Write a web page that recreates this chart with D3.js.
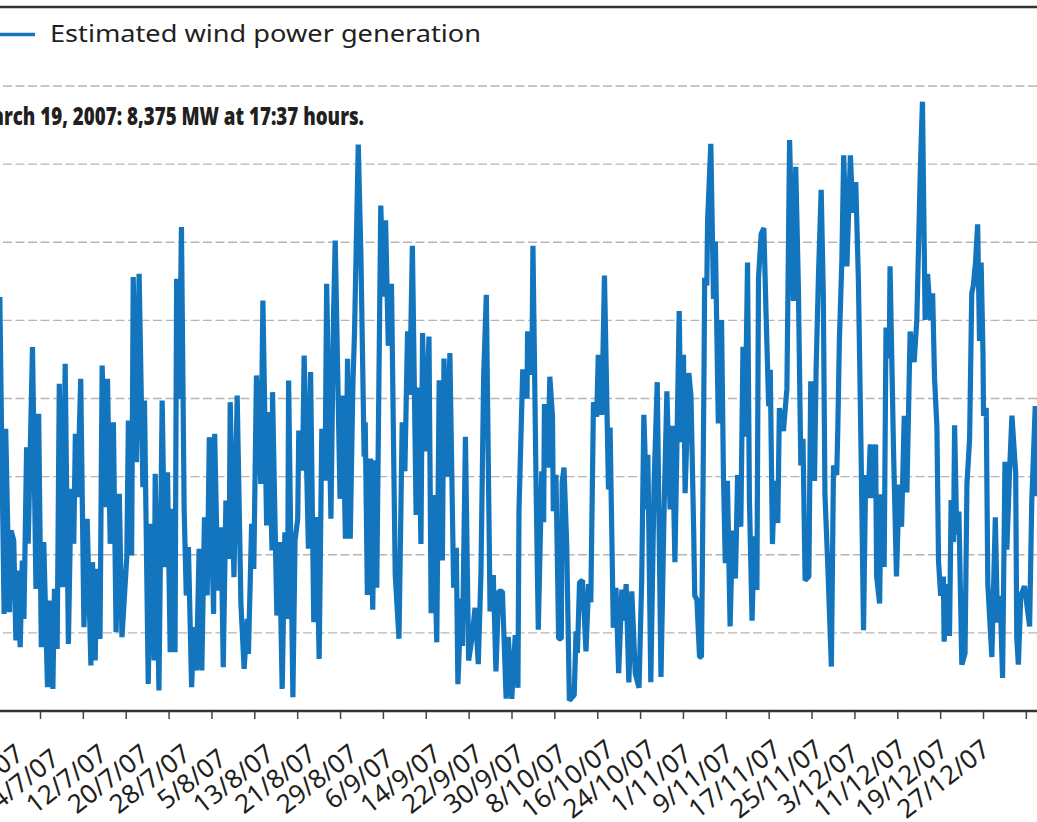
<!DOCTYPE html>
<html><head><meta charset="utf-8">
<script src="https://cdn.jsdelivr.net/npm/d3@7"></script>
<style>html,body{margin:0;padding:0;background:#fff;overflow:hidden}svg{display:block}</style>
</head><body><svg id="c" width="1037" height="822"></svg>
<script>
const legendLabel = "Estimated wind power generation";
const noteText = "March 19, 2007: 8,375 MW at 17:37 hours.";
const gridValues = [1000,2000,3000,4000,5000,6000,7000,8000];
const tickLabels = ["26/6/07","4/7/07","12/7/07","20/7/07","28/7/07","5/8/07","13/8/07","21/8/07","29/8/07","6/9/07","14/9/07","22/9/07","30/9/07","8/10/07","16/10/07","24/10/07","1/11/07","9/11/07","17/11/07","25/11/07","3/12/07","11/12/07","19/12/07","27/12/07",""];
const tickDays = [-8,0,8,16,24,32,40,48,56,64,72,80,88,96,104,112,120,128,136,144,152,160,168,176,184];
// days since 4 July 2007
const days = [-7.5,-7.2,-6.7,-6.4,-5.7,-5.4,-4.9,-4.5,-4.2,-3.7,-3.3,-3,-2.5,-2.2,-1.4,-0.75,-0.25,0.25,0.7,1.4,1.9,2.4,2.7,3.2,3.6,4.2,4.7,5.3,5.8,6.3,6.6,7,7.6,8.2,8.8,9.5,9.8,10.3,10.6,11.2,11.6,12.3,12.6,13.1,13.7,14.2,14.8,15.3,16.2,16.5,17.1,17.4,18,18.5,19.2,19.5,20.2,20.7,21.3,21.5,22.2,22.8,23.3,23.8,24.3,24.7,25.2,25.5,26,26.4,26.9,27.3,27.7,28.3,28.7,29.2,29.7,30.2,30.7,31.2,31.6,32.4,32.6,33.2,33.8,34.2,34.7,35.3,35.5,36.2,36.8,37.5,38.1,38.7,38.9,39.5,39.9,40.4,41.2,41.6,42.3,42.7,43.3,43.4,44.2,44.7,45.2,45.7,46.2,46.4,47.2,47.6,48.1,48.3,49,49.3,50.1,50.5,51.1,51.6,52.1,52.6,53.2,53.5,54.3,54.8,55.1,56,56.5,57,57.4,
57.9,58.4,58.7,59.4,59.9,60.5,60.7,61.1,61.7,62.1,62.5,62.85,63.6,64.1,64.5,65,65.6,66.3,67,67.6,68.1,68.6,69,69.5,70.2,70.6,71.1,71.4,71.9,72.6,73,73.4,74.05,74.5,75.1,75.4,76,76.5,77.2,77.7,78,78.6,78.85,79.4,80,80.6,81.2,81.8,82.3,82.8,83.3,84,84.6,85.1,85.6,86.3,87,87.4,88.05,88.7,89.2,89.4,90.1,90.9,91,91.8,92,92.6,93,93.65,94,94.15,94.8,95.15,95.65,95.8,96.3,96.8,97.3,97.45,97.8,98.3,98.8,99.7,100.05,100.3,100.7,101.25,101.6,101.9,102.4,102.8,103.3,103.9,104.2,104.85,105.35,106.1,106.4,107,107.5,108,108.6,108.9,109.4,109.9,110.45,111.1,111.8,112.3,112.7,113.25,113.45,114,114.6,115.2,115.9,116.5,117,117.6,118,118.5,119.3,119.65,120.1,120.4,121.1,
121.5,122,122.2,122.6,123.1,123.45,123.6,123.95,124.05,124.45,124.6,125.2,125.7,126.05,126.6,127.2,127.55,127.9,128.3,128.8,129.25,129.8,130.2,130.8,131.2,131.6,132.05,132.4,132.9,133.3,133.8,134.1,134.6,135.1,135.5,136,136.3,136.7,137.1,137.7,138,138.75,139.4,139.9,140.6,141.05,141.55,142,142.4,142.8,143.5,143.85,144.55,144.85,145.3,145.8,146.2,146.5,147,147.7,148.1,148.7,148.9,149.2,149.65,150,150.6,151.25,151.7,152.25,152.75,153.25,153.7,154.1,154.6,154.95,155.4,155.95,156.15,156.7,157,157.55,157.9,158.5,158.65,159.3,159.85,160.35,160.8,161.3,161.8,162.4,163.15,163.65,164.3,164.7,165.2,165.65,166.25,166.6,166.95,167.4,167.7,168.1,168.6,168.75,169.25,169.75,170.05,170.5,170.7,171.1,171.5,172.05,172.65,173,173.5,173.9,174.2,174.6,175,175.35,175.65,176,176.1,176.6,176.9,177.65,178.3,178.7,179.2,179.65,180.1,180.45,180.95,181.4,182.1,182.3,182.6,183.05,183.75,184.7,185.1,185.75,186.1];
const windMW = [5298,3719,1243,3612,1265,2310,2182,902,1798,816,1926,1179,3377,2140,4658,1563,3804,816,2161,304,1414,283,1563,795,4188,1585,4444,859,2844,2140,3548,2737,4252,1073,2460,582,1905,646,1819,923,4423,2609,4252,2140,3697,1009,2780,945,1969,3719,1990,5554,3185,5597,2865,3975,347,2396,646,3036,262,3975,1841,3057,752,2588,752,5533,3996,6194,2588,1478,2097,304,1073,518,2076,518,2481,1478,3505,1243,3548,1542,2353,560,2694,1947,3953,1713,4039,1371,539,1179,731,2396,1819,4295,2908,5255,2374,3825,2054,4081,1222,2161,283,2289,1179,4231,176,2182,2460,3591,3078,4551,2076,4338,1137,2481,667,3612,2950,5469,2460,5127,6023,2716,4039,2204,4508,
2206,4186,4838,7251,5816,3254,3697,1484,3231,1298,3208,1578,6469,5304,6282,4675,5467,1741,925,3697,3068,4861,4046,5956,2509,4140,2137,4838,3324,4792,1252,2765,879,4233,1927,4512,2998,4582,1578,2090,343,1438,832,3511,646,925,1321,599,1764,4279,5327,1275,1741,506,1531,1531,157,949,157,972,297,2579,4372,4000,4861,4303,5956,2835,1042,3068,2416,3930,3115,4279,3767,2556,3022,925,925,2928,3115,2137,134,203,1019,739,1647,1671,1205,762,1624,1391,3953,3767,4559,3790,5574,2835,3627,1065,1578,483,1554,1158,1624,367,1531,483,297,1671,3790,2579,3278,367,2882,4209,436,2649,4093,2579,3650,1904,5118,3441,4559,2789,4326,
4025,2309,1475,1426,691,691,1672,4515,5544,5446,6279,7260,5275,6010,3681,5005,3044,1892,2946,1083,2309,1696,3020,2358,4662,3510,5740,2726,1157,2235,1549,5544,6108,6181,5103,3902,4368,2137,2946,2407,3877,3583,4123,7309,5250,6966,5397,3142,3485,1672,1721,4221,2946,4368,5593,6672,5299,2775,1917,569,3142,3020,3608,4760,5740,7113,5691,7113,6378,6770,5495,3289,1034,3020,2726,3412,2726,3412,1721,1377,2775,1843,4907,4515,5691,3338,1721,2897,2358,3780,2799,4858,4466,5005,6917,7799,5005,5593,5005,5348,4270,3632,1917,1475,1721,887,1623,961,2701,2162,3657,2260,2554,593,740,2897,3485,5348,5446,5740,6230,4735,5740,4564,3780,3877,1623,691,2480,1132,1475,422,3191,2064,3044,3780,3044,936,593,1475,1598,1083,2676,3902,2750];

const series = days.map((d,i)=>({d, v:windMW[i]}));
const blue = "#1275bd", ink = "#231f20";
const svg = d3.select("#c");
const x = d3.scaleLinear().domain([0,176]).range([40,983]);
const labelX = d3.scaleLinear().domain([8,176]).range([72,949]);
const y = d3.scaleLinear().domain([0,8000]).range([711,86]);

svg.append("line").attr("x1",0).attr("x2",1037).attr("y1",7).attr("y2",7).attr("stroke","#333").attr("stroke-width",2.5);
svg.append("line").attr("x1",0).attr("x2",35).attr("y1",34.5).attr("y2",34.5).attr("stroke",blue).attr("stroke-width",3.5);
svg.append("text").attr("x",50).attr("y",42).attr("fill",ink)
  .style("font-family","'Noto Sans'").style("font-size","24px").attr("textLength",431).attr("lengthAdjust","spacingAndGlyphs").text(legendLabel);

svg.selectAll("line.grid").data(gridValues).join("line").attr("class","grid")
  .attr("x1",3).attr("x2",1037).attr("y1",d=>y(d)).attr("y2",d=>y(d))
  .attr("stroke","#b5b5b5").attr("stroke-width",1.4).attr("stroke-dasharray","9 3.5");

const path = d3.line().x(p=>x(p.d)).y(p=>y(p.v)).curve(d3.curveLinear);
svg.append("path").datum(series).attr("d",path).attr("fill","none").attr("stroke",blue)
  .attr("stroke-width",5.2).attr("stroke-linejoin","bevel");

svg.append("text").attr("text-anchor","end").attr("transform","translate(364,125) scale(0.78,1)").attr("fill",ink)
  .style("font-family","'Open Sans'").style("font-weight",800).style("font-size","24px").text(noteText);

const axis = d3.axisBottom(x).tickValues(tickDays).tickSize(8).tickFormat("");
const ag = svg.append("g").attr("transform","translate(0,711)").call(axis);
ag.select(".domain").attr("stroke","#333").attr("stroke-width",2.5).attr("d","M0,0H1037");
ag.selectAll(".tick line").attr("stroke","#444").attr("stroke-width",1.5);

svg.selectAll("text.tl").data(tickDays).join("text").attr("class","tl")
  .attr("text-anchor","middle").attr("fill",ink)
  .attr("transform",d=>`translate(${labelX(d)},786) rotate(-38)`)
  .style("font-family","'Noto Sans'").style("font-size","26px")
  .text((d,i)=>tickLabels[i]);
</script></body></html>
